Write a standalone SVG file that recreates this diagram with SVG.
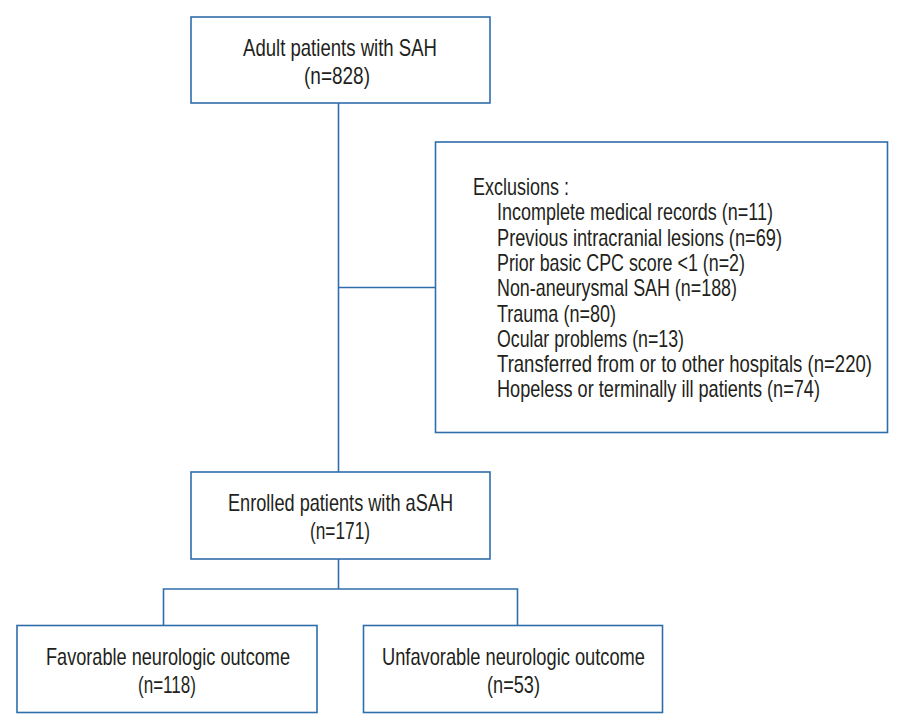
<svg xmlns="http://www.w3.org/2000/svg" width="903" height="727" viewBox="0 0 903 727">
<style>
.box{fill:#fff;stroke:#2f6eaa;stroke-width:1.6}
.ln{fill:none;stroke:#2f6eaa;stroke-width:1.6}
text{font-family:"Liberation Sans",Arial,sans-serif;font-size:23px;fill:#231f20}
</style>
<rect width="903" height="727" fill="#fff"/>
<g id="connectors">
<path class="ln" d="M338.5 103V472M338.5 287.5H435.5M338.5 559V589M163.5 625V589H517.5V625"/>
</g>
<g id="n-adult">
<rect class="box" x="191" y="17" width="299" height="86"/>
<g transform="scale(0.78,1)">
<text x="311.54" y="56" textLength="248.72" lengthAdjust="spacingAndGlyphs">Adult patients with SAH</text>
<text x="389.74" y="84" textLength="84.62" lengthAdjust="spacingAndGlyphs">(n=828)</text>
</g>
</g>
<g id="n-exclusions">
<rect class="box" x="435.5" y="142" width="452" height="290.5"/>
<g transform="scale(0.78,1)">
<text x="606.41" y="195" textLength="123.08" lengthAdjust="spacingAndGlyphs">Exclusions :</text>
<text x="637.18" y="220" textLength="353.85" lengthAdjust="spacingAndGlyphs">Incomplete medical records (n=11)</text>
<text x="637.18" y="246" textLength="365.38" lengthAdjust="spacingAndGlyphs">Previous intracranial lesions (n=69)</text>
<text x="637.18" y="271" textLength="317.95" lengthAdjust="spacingAndGlyphs">Prior basic CPC score &lt;1 (n=2)</text>
<text x="637.18" y="296" textLength="307.69" lengthAdjust="spacingAndGlyphs">Non-aneurysmal SAH (n=188)</text>
<text x="637.18" y="322" textLength="152.56" lengthAdjust="spacingAndGlyphs">Trauma (n=80)</text>
<text x="637.18" y="347" textLength="239.74" lengthAdjust="spacingAndGlyphs">Ocular problems (n=13)</text>
<text x="637.18" y="372" textLength="480.77" lengthAdjust="spacingAndGlyphs">Transferred from or to other hospitals (n=220)</text>
<text x="637.18" y="397" textLength="414.10" lengthAdjust="spacingAndGlyphs">Hopeless or terminally ill patients (n=74)</text>
</g>
</g>
<g id="n-enrolled">
<rect class="box" x="191" y="472" width="299" height="87"/>
<g transform="scale(0.78,1)">
<text x="292.31" y="511" textLength="288.46" lengthAdjust="spacingAndGlyphs">Enrolled patients with aSAH</text>
<text x="397.44" y="539" textLength="76.92" lengthAdjust="spacingAndGlyphs">(n=171)</text>
</g>
</g>
<g id="n-favorable">
<rect class="box" x="17" y="625.5" width="300" height="87"/>
<g transform="scale(0.78,1)">
<text x="58.97" y="665" textLength="312.82" lengthAdjust="spacingAndGlyphs">Favorable neurologic outcome</text>
<text x="176.92" y="693" textLength="74.36" lengthAdjust="spacingAndGlyphs">(n=118)</text>
</g>
</g>
<g id="n-unfavorable">
<rect class="box" x="363.5" y="625.5" width="299" height="87"/>
<g transform="scale(0.78,1)">
<text x="489.74" y="665" textLength="337.18" lengthAdjust="spacingAndGlyphs">Unfavorable neurologic outcome</text>
<text x="624.36" y="693" textLength="67.95" lengthAdjust="spacingAndGlyphs">(n=53)</text>
</g>
</g>
</svg>
